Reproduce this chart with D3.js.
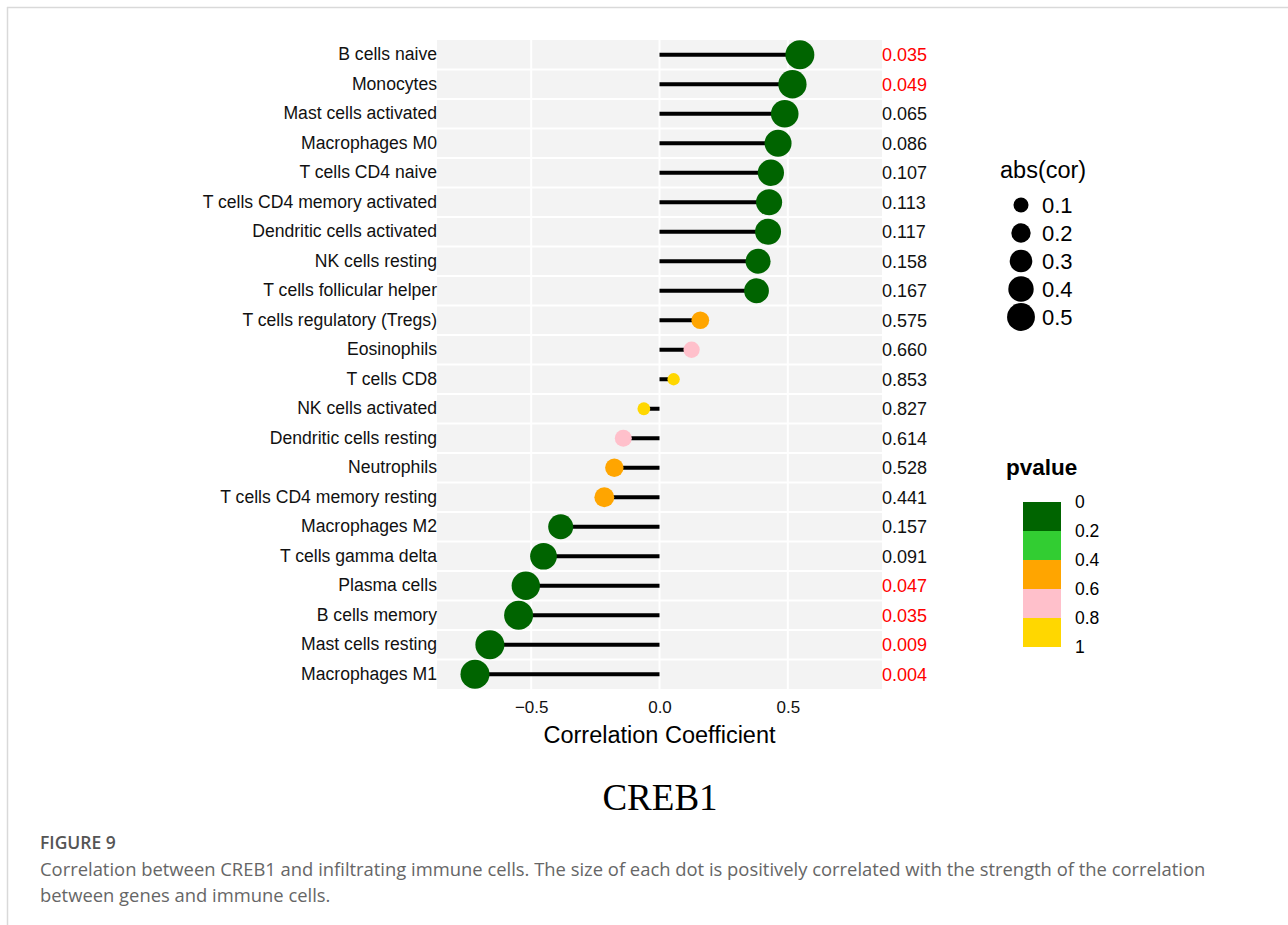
<!DOCTYPE html>
<html>
<head>
<meta charset="utf-8">
<script src="https://cdn.jsdelivr.net/npm/d3@7"></script>
<style>
  body { margin: 0; background: #fff; }
  svg { display: block; }
</style>
</head>
<body>
<div class="canvas"></div>
<script>
// Data (top row first)

const cells = [
  "B cells naive", "Monocytes", "Mast cells activated", "Macrophages M0",
  "T cells CD4 naive", "T cells CD4 memory activated", "Dendritic cells activated",
  "NK cells resting", "T cells follicular helper", "T cells regulatory (Tregs)",
  "Eosinophils", "T cells CD8", "NK cells activated", "Dendritic cells resting",
  "Neutrophils", "T cells CD4 memory resting", "Macrophages M2", "T cells gamma delta",
  "Plasma cells", "B cells memory", "Mast cells resting", "Macrophages M1"
];

const cor = [
  0.547, 0.518, 0.488, 0.462, 0.434, 0.427, 0.423, 0.384, 0.378, 0.159,
  0.125, 0.055, -0.061, -0.141, -0.176, -0.215, -0.385, -0.452, -0.521, -0.549,
  -0.661, -0.719
];

const pvalue = [
  0.035, 0.049, 0.065, 0.086, 0.107, 0.113, 0.117, 0.158, 0.167, 0.575,
  0.660, 0.853, 0.827, 0.614, 0.528, 0.441, 0.157, 0.091, 0.047, 0.035,
  0.009, 0.004
];

const xTicks = [-0.5, 0, 0.5];
const sizeBreaks = [0.1, 0.2, 0.3, 0.4, 0.5];
const pBreaks = [0, 0.2, 0.4, 0.6, 0.8, 1];
const pColors = ["#006400", "#32CD32", "#FFA500", "#FFC0CB", "#FFD700"];

const data = cells.map((c, i) => ({cell: c, cor: cor[i], p: pvalue[i]}));

// Set dimensions

const W = 1288, H = 925;
const panel = {left: 437, right: 882, top: 40, bottom: 689};
const sans = "Liberation Sans, Arial, sans-serif";

const svg = d3.select(".canvas")
  .append("svg")
    .attr("width", W)
    .attr("height", H);

// page frame lines
svg.append("line")
  .attr("x1", 7).attr("x2", W).attr("y1", 7.5).attr("y2", 7.5)
  .attr("stroke", "#d9d9d9").attr("stroke-width", 1.5);
svg.append("line")
  .attr("x1", 7.5).attr("x2", 7.5).attr("y1", 7).attr("y2", H)
  .attr("stroke", "#d9d9d9").attr("stroke-width", 1.5);

// scales
const x = d3.scaleLinear()
  .domain([-0.867, 0.867])
  .range([panel.left, panel.right]);

const y = d3.scaleBand()
  .domain(cells)
  .range([panel.top, panel.bottom]);

const r = d3.scaleSqrt()
  .domain([0.05, 0.55])
  .range([6, 14.5])
  .clamp(true);

const color = d3.scaleThreshold()
  .domain([0.2, 0.4, 0.6, 0.8])
  .range(pColors);

// panel background
svg.append("rect")
  .attr("x", panel.left).attr("y", panel.top)
  .attr("width", panel.right - panel.left)
  .attr("height", panel.bottom - panel.top)
  .attr("fill", "#f3f3f3");

// grid lines
svg.selectAll(".vgrid")
  .data(xTicks)
  .join("line")
    .attr("x1", d => x(d)).attr("x2", d => x(d))
    .attr("y1", panel.top).attr("y2", panel.bottom)
    .attr("stroke", "#fff").attr("stroke-width", 2);

svg.selectAll(".hgrid")
  .data(cells.slice(1))
  .join("line")
    .attr("x1", panel.left).attr("x2", panel.right)
    .attr("y1", d => y(d)).attr("y2", d => y(d))
    .attr("stroke", "#fff").attr("stroke-width", 2);

// lollipop sticks
svg.selectAll(".stick")
  .data(data)
  .join("line")
    .attr("x1", x(0)).attr("x2", d => x(d.cor))
    .attr("y1", d => y(d.cell) + y.bandwidth() / 2)
    .attr("y2", d => y(d.cell) + y.bandwidth() / 2)
    .attr("stroke", "#000").attr("stroke-width", 4);

// dots
svg.selectAll(".dot")
  .data(data)
  .join("circle")
    .attr("cx", d => x(d.cor))
    .attr("cy", d => y(d.cell) + y.bandwidth() / 2)
    .attr("r", d => r(Math.abs(d.cor)))
    .attr("fill", d => color(d.p));

// y axis labels
svg.append("g")
  .attr("transform", `translate(${panel.left},0)`)
  .call(d3.axisLeft(y).tickSize(0).tickPadding(0))
  .call(g => g.select(".domain").remove())
  .call(g => g.selectAll("text")
    .attr("font-family", sans)
    .attr("font-size", 17.6)
    .attr("fill", "#111"));

// p-value labels on the right
svg.selectAll(".plab")
  .data(data)
  .join("text")
    .attr("x", panel.right)
    .attr("y", d => y(d.cell) + y.bandwidth() / 2)
    .attr("dy", "0.35em")
    .attr("font-family", sans)
    .attr("font-size", 18)
    .attr("fill", d => d.p < 0.05 ? "#ff0000" : "#111")
    .text(d => d.p.toFixed(3));

// x axis
svg.append("g")
  .attr("transform", `translate(0,${panel.bottom})`)
  .call(d3.axisBottom(x).tickValues(xTicks).tickSize(0).tickPadding(12)
    .tickFormat(d => d === 0 ? "0.0" : d3.format(".1f")(d).replace("-", "\u2212")))
  .call(g => g.select(".domain").remove())
  .call(g => g.selectAll("text")
    .attr("font-family", sans)
    .attr("font-size", 17)
    .attr("fill", "#111"));

svg.append("text")
  .attr("x", x(0))
  .attr("y", 743)
  .attr("text-anchor", "middle")
  .attr("font-family", sans)
  .attr("font-size", 23.5)
  .attr("fill", "#000")
  .text("Correlation Coefficient");

// size legend
svg.append("text")
  .attr("x", 1000).attr("y", 178)
  .attr("font-family", sans)
  .attr("font-size", 23.5)
  .text("abs(cor)");

const sy = d3.scalePoint()
  .domain(sizeBreaks)
  .range([205, 317]);

svg.selectAll(".sdot")
  .data(sizeBreaks)
  .join("circle")
    .attr("cx", 1021)
    .attr("cy", d => sy(d))
    .attr("r", d => r(d))
    .attr("fill", "#000");

svg.selectAll(".slab")
  .data(sizeBreaks)
  .join("text")
    .attr("x", 1042)
    .attr("y", d => sy(d))
    .attr("dy", "0.36em")
    .attr("font-family", sans)
    .attr("font-size", 22)
    .text(d => d.toFixed(1));

// pvalue colour steps legend
svg.append("text")
  .attr("x", 1006).attr("y", 475)
  .attr("font-family", sans)
  .attr("font-size", 22.5)
  .attr("font-weight", "bold")
  .text("pvalue");

const py = d3.scaleLinear()
  .domain([0, 1])
  .range([502, 647]);

svg.selectAll(".pstep")
  .data(pColors)
  .join("rect")
    .attr("x", 1023)
    .attr("y", (d, i) => py(pBreaks[i]))
    .attr("width", 38)
    .attr("height", (d, i) => py(pBreaks[i + 1]) - py(pBreaks[i]))
    .attr("fill", d => d);

svg.selectAll(".ptick")
  .data(pBreaks)
  .join("text")
    .attr("x", 1075)
    .attr("y", d => py(d))
    .attr("dy", "0.35em")
    .attr("font-family", sans)
    .attr("font-size", 17.5)
    .text(d => d === 0 || d === 1 ? d : d.toFixed(1));

// gene title
svg.append("text")
  .attr("x", 660)
  .attr("y", 810)
  .attr("text-anchor", "middle")
  .attr("font-family", "Liberation Serif, Times New Roman, serif")
  .attr("font-size", 37)
  .text("CREB1");

// figure caption
svg.append("text")
  .attr("x", 40).attr("y", 849)
  .attr("font-family", "Open Sans, sans-serif")
  .attr("font-size", 17.5)
  .attr("font-weight", 600)
  .attr("fill", "#555")
  .text("FIGURE 9");

const caption = [
  "Correlation between CREB1 and infiltrating immune cells. The size of each dot is positively correlated with the strength of the correlation",
  "between genes and immune cells."
];

svg.selectAll(".cap")
  .data(caption)
  .join("text")
    .attr("x", 40)
    .attr("y", (d, i) => 876 + i * 26)
    .attr("font-family", "Open Sans, sans-serif")
    .attr("font-size", 18.4)
    .attr("fill", "#666")
    .text(d => d);
</script>
</body>
</html>
